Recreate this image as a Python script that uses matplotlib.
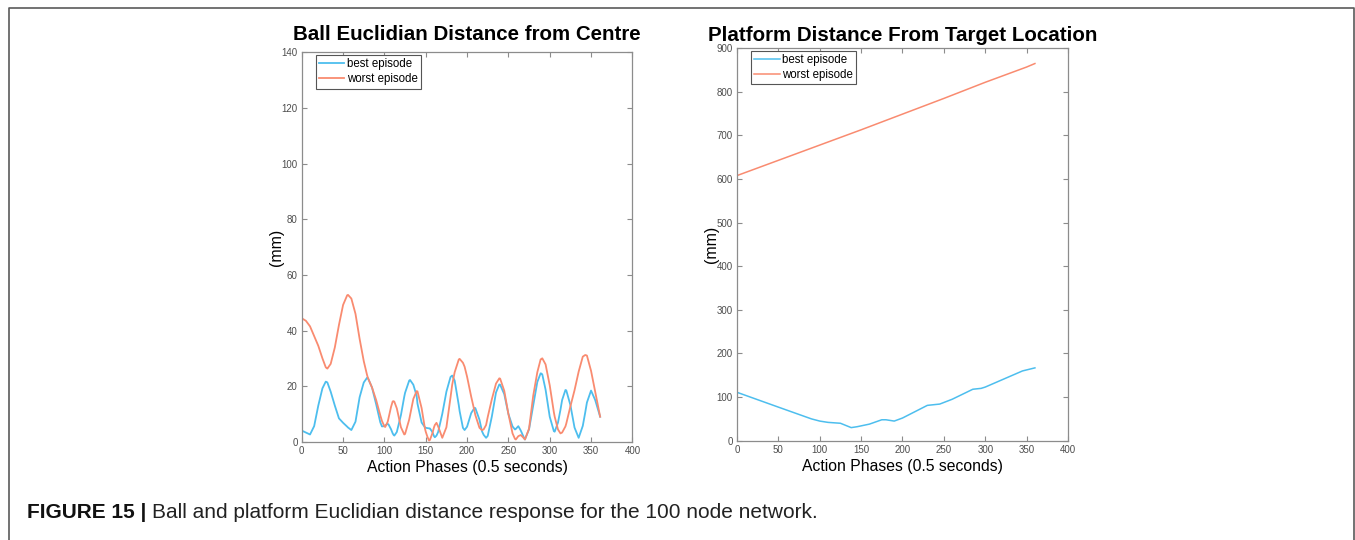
import matplotlib
matplotlib.use("Agg")
import matplotlib.pyplot as plt
from matplotlib.lines import Line2D

plt.rcParams["font.family"] = ["Liberation Sans", "DejaVu Sans"]

# ── data ──────────────────────────────────────────────────────────────────────
ball_x = [0, 5, 10, 15, 20, 25, 29, 30, 31, 35, 40, 45, 50, 55, 56, 60, 65, 70,
          75, 79, 80, 85, 90, 95, 97, 100, 101, 104, 105, 108, 110, 111, 112,
          115, 120, 124, 125, 130, 131, 135, 139, 140, 145, 149, 150, 152, 154,
          155, 158, 160, 161, 163, 165, 170, 175, 180, 182, 185, 190, 191, 195,
          197, 200, 205, 209, 210, 215, 218, 220, 223, 225, 230, 235, 239, 240,
          245, 250, 255, 258, 259, 262, 265, 268, 270, 275, 280, 285, 289, 290,
          291, 295, 300, 305, 306, 310, 313, 315, 319, 320, 325, 330, 335, 340,
          343, 345, 350, 355, 360, 361]

ball_best = [4.0, 3.3, 2.6, 5.6, 13.0, 19.2, 21.6, 21.5, 21.3, 18.0, 13.0, 8.4,
             6.8, 5.4, 5.1, 4.2, 7.2, 16.0, 21.3, 23.0, 22.9, 19.5, 13.5, 7.0,
             5.5, 5.6, 5.9, 6.4, 6.2, 4.5, 3.0, 2.5, 2.2, 3.5, 9.6, 16.2, 17.6,
             22.0, 22.2, 20.5, 16.5, 13.7, 6.9, 5.2, 5.0, 4.9, 4.8, 4.8, 3.5,
             2.0, 1.6, 2.2, 3.5, 10.0, 18.0, 23.3, 23.8, 22.0, 13.1, 11.0, 5.0,
             4.2, 5.4, 10.3, 12.2, 12.1, 7.9, 3.8, 2.5, 1.4, 2.1, 9.1, 17.7,
             20.6, 20.5, 17.1, 10.0, 5.5, 4.4, 4.6, 5.6, 4.0, 2.0, 0.8, 4.5,
             13.0, 21.5, 24.6, 24.5, 24.2, 18.7, 9.0, 3.8, 3.6, 6.9, 11.5, 15.0,
             18.6, 18.5, 13.2, 5.1, 1.4, 5.7, 10.6, 14.1, 18.4, 15.0, 10.0, 9.0]

ball_worst = [44.4, 43.5, 41.5, 38.0, 34.5, 30.0, 26.8, 26.5, 26.3, 28.0, 33.9,
              42.0, 49.2, 52.7, 52.8, 51.5, 46.0, 37.0, 29.0, 24.0, 23.0, 19.5,
              15.0, 9.5, 7.5, 5.5, 5.3, 7.2, 8.5, 12.5, 14.5, 14.6, 14.4, 12.0,
              5.2, 2.6, 2.8, 8.0, 9.5, 15.4, 18.2, 18.1, 12.1, 4.8, 3.6, 1.8,
              0.4, 0.6, 3.0, 5.2, 6.0, 6.8, 5.5, 1.4, 5.2, 16.0, 20.5, 25.0,
              29.6, 29.8, 28.4, 27.0, 23.4, 16.2, 11.0, 9.6, 5.0, 4.2, 4.4, 6.0,
              8.9, 15.3, 20.9, 22.8, 22.7, 18.3, 10.0, 3.0, 1.0, 0.8, 2.0, 2.4,
              1.5, 0.8, 4.7, 16.5, 25.0, 29.6, 29.8, 30.0, 27.8, 20.3, 10.6,
              9.0, 4.4, 3.0, 3.3, 5.5, 6.5, 12.7, 18.5, 25.2, 30.6, 31.2, 31.0,
              25.5, 18.0, 10.5, 9.0]

plat_best_x = [0, 50, 90, 100, 110, 125, 138, 145, 150, 160, 175, 180, 190,
               200, 230, 245, 260, 285, 295, 300, 345, 360]
plat_best = [111, 77, 50, 45, 42, 40, 30, 32, 34, 38, 48, 48, 45,
             52, 81, 84, 95, 118, 120, 123, 160, 167]

plat_worst_x = [0, 50, 100, 150, 200, 250, 300, 350, 360]
plat_worst = [608, 643, 678, 713, 749, 785, 822, 857, 865]

legend_labels = ["best episode", "worst episode"]
x_ticks = [0, 50, 100, 150, 200, 250, 300, 350, 400]
ball_yticks = [0, 20, 40, 60, 80, 100, 120, 140]
plat_yticks = [0, 100, 200, 300, 400, 500, 600, 700, 800, 900]

BLUE = "#4DBEEE"
ORANGE = "#F98B70"
AX_GREY = "#8C8C8C"
TICK_GREY = "#4D4D4D"

# ── figure ────────────────────────────────────────────────────────────────────
fig = plt.figure(figsize=(13.55, 5.4), dpi=100)
ax1 = fig.add_axes([0.2227, 0.1820, 0.2440, 0.7208])
ax2 = fig.add_axes([0.5439, 0.1839, 0.2443, 0.7267])


def style(ax, yticks, ylim, title, pad):
    ax.set_xlim(0, 400)
    ax.set_ylim(*ylim)
    ax.set_xticks(x_ticks)
    ax.set_yticks(yticks)
    ax.tick_params(direction="in", length=3.5, width=0.8, top=True, right=True,
                   labelsize=7, colors=AX_GREY, labelcolor=TICK_GREY, pad=3)
    for sp in ax.spines.values():
        sp.set_color(AX_GREY)
        sp.set_linewidth(0.9)
    ax.set_title(title, fontsize=14.8, fontweight="bold", pad=pad)
    ax.set_xlabel("Action Phases (0.5 seconds)", fontsize=11.3, labelpad=3)
    ax.set_ylabel("(mm)", fontsize=11.5, labelpad=-2)
    leg = ax.legend(legend_labels, loc="upper left", fontsize=8.3,
                    bbox_to_anchor=(0.035, 1.0), fancybox=False,
                    framealpha=1, handlelength=2.2, handletextpad=0.2,
                    borderpad=0.3, labelspacing=0.25, borderaxespad=0.2)
    leg.get_frame().set_edgecolor("#555555")
    leg.get_frame().set_linewidth(0.8)


ax1.plot(ball_x, ball_best, color=BLUE, lw=1.3)
ax1.plot(ball_x, ball_worst, color=ORANGE, lw=1.3)
style(ax1, ball_yticks, (0, 140), "Ball Euclidian Distance from Centre", 9)

ax2.plot(plat_best_x, plat_best, color=BLUE, lw=1.1)
ax2.plot(plat_worst_x, plat_worst, color=ORANGE, lw=1.1)
style(ax2, plat_yticks, (0, 900), "Platform Distance From Target Location", 5.5)

# page frame round the figure
W, H = 1355, 540
frame = Line2D([9 / W, 9 / W, 1354 / W, 1354 / W],
               [0, 1 - 8 / H, 1 - 8 / H, 0],
               transform=fig.transFigure, color="#5A5A5A", lw=1.2)
fig.add_artist(frame)

# caption: bold figure number, then the description right after it
cap_y = 1 - 513 / H
head = fig.text(27 / W, cap_y, "FIGURE 15 |", fontsize=15, fontweight="bold",
                va="center", ha="left", color="#111111")
fig.canvas.draw()
bb = head.get_window_extent(renderer=fig.canvas.get_renderer())
fig.text((bb.x1 + 6) / W, cap_y,
         "Ball and platform Euclidian distance response for the 100 node network.",
         fontsize=15, va="center", ha="left", color="#222222")

fig.savefig("out.png", dpi=100)
